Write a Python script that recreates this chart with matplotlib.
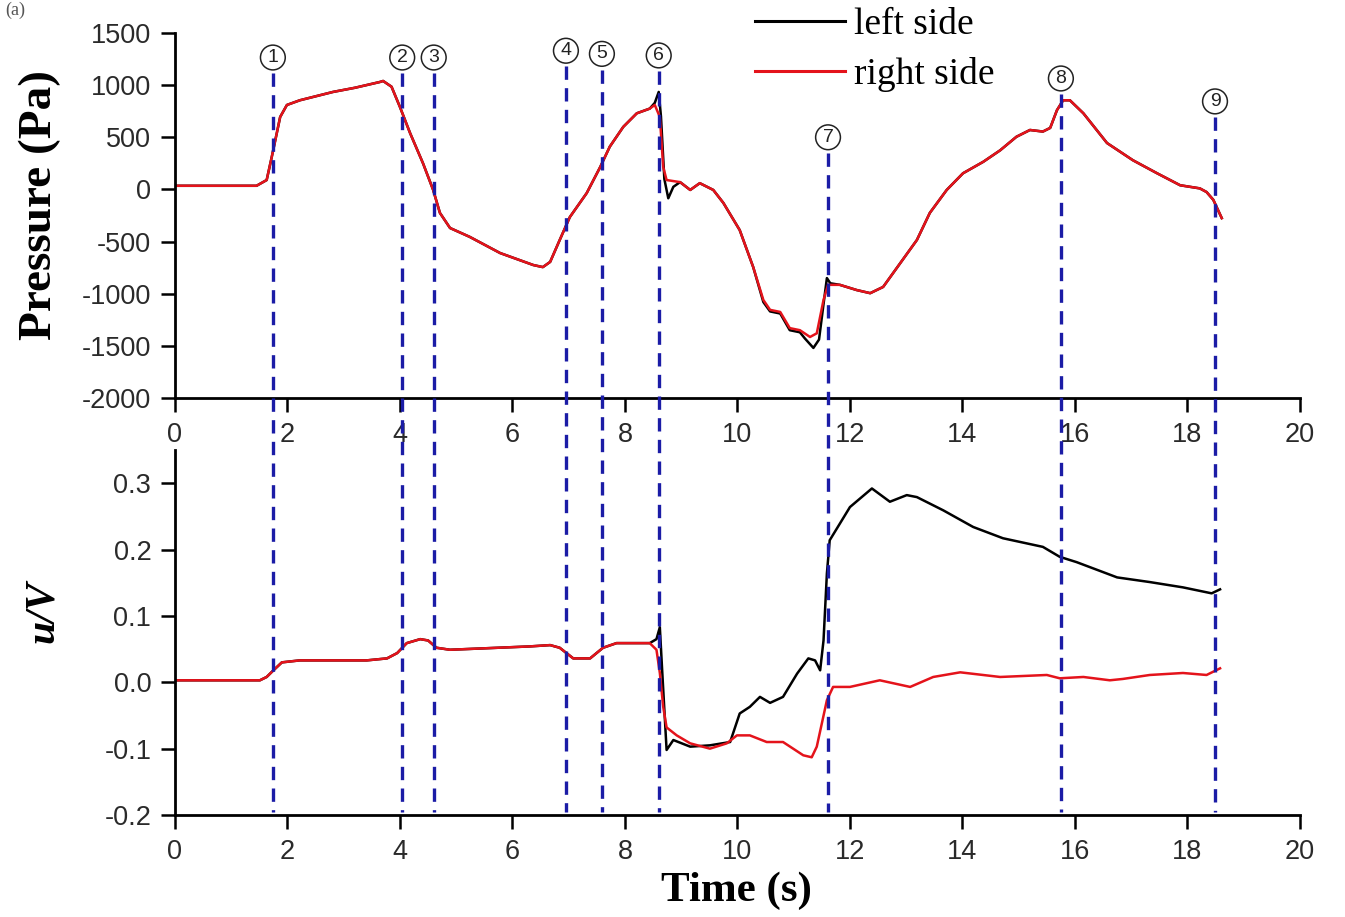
import matplotlib.pyplot as plt
from matplotlib.lines import Line2D

plt.rcParams['axes.unicode_minus'] = False

# ---- data ----
# pressure, right side
t_p_right = [0, 1.45, 1.63, 1.72, 1.81, 1.87, 1.99, 2.22, 2.81, 3.2, 3.64, 3.7, 3.85, 4.0,
             4.18, 4.41, 4.59, 4.71, 4.89, 5.24, 5.78, 6.37, 6.54, 6.67, 6.84, 7.02, 7.32,
             7.56, 7.73, 7.97, 8.21, 8.44, 8.53, 8.62, 8.68, 8.74, 8.98, 9.16, 9.33, 9.57,
             9.75, 10.04, 10.28, 10.46, 10.58, 10.76, 10.93, 11.11, 11.29, 11.41, 11.53,
             11.61, 11.82, 12.12, 12.36, 12.59, 12.89, 13.19, 13.42, 13.72, 14.01, 14.37,
             14.67, 14.96, 15.2, 15.43, 15.56, 15.68, 15.79, 15.91, 16.15, 16.57, 17.03,
             17.46, 17.87, 18.22, 18.34, 18.46, 18.61]
p_right = [35, 35, 90, 310, 540, 695, 810, 855, 935, 975, 1030, 1040, 985, 790,
           540, 250, -5, -225, -370, -455, -610, -725, -745, -695, -485, -265, -35,
           215, 410, 600, 730, 775, 810, 695, 215, 90, 70, -5, 60, -5,
           -130, -390, -745, -1060, -1155, -1175, -1330, -1350, -1415, -1380, -1060,
           -915, -915, -965, -995, -935, -710, -485, -225, -5, 155, 265,
           375, 505, 570, 555, 590, 760, 855, 855, 730, 445, 280,
           155, 40, 10, -25, -100, -275]

# pressure, left side (only differs near events 6 and 7)
t_p_left = [0, 1.45, 1.63, 1.72, 1.81, 1.87, 1.99, 2.22, 2.81, 3.2, 3.64, 3.7, 3.85, 4.0,
            4.18, 4.41, 4.59, 4.71, 4.89, 5.24, 5.78, 6.37, 6.54, 6.67, 6.84, 7.02, 7.32,
            7.56, 7.73, 7.97, 8.21, 8.44, 8.53, 8.6, 8.64, 8.7, 8.77, 8.86, 8.98, 9.16,
            9.33, 9.57, 9.75, 10.04, 10.28, 10.46, 10.58, 10.76, 10.93, 11.11, 11.2,
            11.35, 11.45, 11.53, 11.59, 11.65, 11.82, 12.12, 12.36, 12.59, 12.89, 13.19,
            13.42, 13.72, 14.01, 14.37, 14.67, 14.96, 15.2, 15.43, 15.56, 15.68, 15.79,
            15.91, 16.15, 16.57, 17.03, 17.46, 17.87, 18.22, 18.34, 18.46, 18.61]
p_left = [35, 35, 90, 310, 540, 695, 810, 855, 935, 975, 1030, 1040, 985, 790,
          540, 250, -5, -225, -370, -455, -610, -725, -745, -695, -485, -265, -35,
          215, 410, 600, 730, 775, 830, 935, 700, 100, -85, 25, 70, -5,
          60, -5, -130, -390, -745, -1080, -1170, -1190, -1350, -1370, -1430,
          -1520, -1440, -1100, -850, -900, -915, -965, -995, -935, -710, -485,
          -225, -5, 155, 265, 375, 505, 570, 555, 590, 760, 855,
          855, 730, 445, 280, 155, 40, 10, -25, -100, -275]

# u/V, right side
t_u_right = [0, 1.51, 1.63, 1.75, 1.9, 2.22, 3.41, 3.77, 3.95, 4.12, 4.36, 4.5, 4.65,
             4.89, 6.3, 6.67, 6.84, 7.08, 7.38, 7.61, 7.85, 8.44, 8.56, 8.62, 8.68,
             8.74, 8.92, 9.16, 9.51, 9.81, 9.99, 10.22, 10.52, 10.81, 11.17, 11.32,
             11.41, 11.59, 11.7, 12.0, 12.53, 13.07, 13.48, 13.96, 14.67, 15.5, 15.73,
             16.15, 16.62, 16.85, 17.33, 17.92, 18.34, 18.58]
u_right = [0.003, 0.003, 0.008, 0.018, 0.03, 0.033, 0.033, 0.036, 0.044, 0.059, 0.065,
           0.063, 0.052, 0.049, 0.054, 0.056, 0.052, 0.036, 0.036, 0.052, 0.059, 0.059,
           0.049, 0.014, -0.037, -0.068, -0.08, -0.092, -0.1, -0.092, -0.08, -0.08,
           -0.09, -0.09, -0.11, -0.113, -0.097, -0.027, -0.007, -0.007, 0.003, -0.007,
           0.008, 0.015, 0.008, 0.011, 0.006, 0.008, 0.003, 0.005, 0.011, 0.014,
           0.011, 0.021]

# u/V, left side
t_u_left = [0, 1.51, 1.63, 1.75, 1.9, 2.22, 3.41, 3.77, 3.95, 4.12, 4.36, 4.5, 4.65,
            4.89, 6.3, 6.67, 6.84, 7.08, 7.38, 7.61, 7.85, 8.44, 8.56, 8.62, 8.66,
            8.74, 8.86, 9.16, 9.51, 9.87, 10.04, 10.22, 10.4, 10.58, 10.81, 11.06,
            11.26, 11.38, 11.47, 11.53, 11.59, 11.64, 12.0, 12.39, 12.71, 13.01, 13.19,
            13.66, 14.19, 14.72, 15.43, 15.73, 16.03, 16.75, 17.33, 17.92, 18.43, 18.58]
u_left = [0.003, 0.003, 0.008, 0.018, 0.03, 0.033, 0.033, 0.036, 0.044, 0.059, 0.065,
          0.063, 0.052, 0.049, 0.054, 0.056, 0.052, 0.036, 0.036, 0.052, 0.059, 0.059,
          0.065, 0.083, 0.02, -0.102, -0.087, -0.097, -0.095, -0.09, -0.047, -0.037,
          -0.022, -0.031, -0.022, 0.013, 0.036, 0.033, 0.018, 0.063, 0.164, 0.214,
          0.264, 0.292, 0.272, 0.282, 0.279, 0.259, 0.234, 0.217, 0.204, 0.189,
          0.181, 0.158, 0.151, 0.143, 0.134, 0.14]

# event markers
event_times = [1.74, 4.04, 4.6, 6.95, 7.59, 8.6, 11.61, 15.75, 18.49]
event_labels = ['1', '2', '3', '4', '5', '6', '7', '8', '9']
event_heights = [1265, 1265, 1265, 1330, 1300, 1285, 500, 1064, 844]

p_ticks = [-2000, -1500, -1000, -500, 0, 500, 1000, 1500]
u_ticks = [-0.2, -0.1, 0.0, 0.1, 0.2, 0.3]
t_ticks = list(range(0, 21, 2))

RED = '#e4131b'
BLUE = '#1b1ca6'
TICK_FONT = 'Liberation Sans'
SERIF = 'Liberation Serif'

fig = plt.figure(figsize=(13.45, 9.17), dpi=100)
ax1 = fig.add_axes([0.1301, 0.566, 0.8364, 0.398])
ax2 = fig.add_axes([0.1301, 0.1112, 0.8364, 0.3981])

ax1.plot(t_p_left, p_left, color='black', lw=1.8, label='left side')
ax1.plot(t_p_right, p_right, color=RED, lw=1.8, label='right side')
ax2.plot(t_u_left, u_left, color='black', lw=1.8)
ax2.plot(t_u_right, u_right, color=RED, lw=1.8)

ax1.set_ylim(-2000, 1500)
ax2.set_ylim(-0.2, 0.35)
ax1.set_yticks(p_ticks)
ax2.set_yticks(u_ticks)
ax2.set_yticklabels([f'{v:.1f}' for v in u_ticks])

for ax in (ax1, ax2):
    ax.set_xlim(0, 20)
    ax.set_xticks(t_ticks)
    ax.spines['top'].set_visible(False)
    ax.spines['right'].set_visible(False)
    ax.spines['left'].set_linewidth(2.0)
    ax.spines['bottom'].set_linewidth(2.0)
    ax.tick_params(direction='out', length=10, width=1.8, pad=7,
                   labelsize=19.5, labelcolor='#2a2a2a')
    for lab in ax.get_xticklabels() + ax.get_yticklabels():
        lab.set_fontfamily(TICK_FONT)
    ax.set_facecolor('none')

# vertical dashed event lines, running through both panels
fig.canvas.draw()
to_fig = fig.transFigure.inverted()
y_bottom = to_fig.transform(ax2.transData.transform((0, -0.195)))[1]
for t, h, lab in zip(event_times, event_heights, event_labels):
    x_fig, y_top = to_fig.transform(ax1.transData.transform((t, h - 150)))
    fig.add_artist(Line2D([x_fig, x_fig], [y_top, y_bottom], transform=fig.transFigure,
                          color=BLUE, lw=2.4, ls=(0, (4, 2.5)), zorder=1))
    ax1.text(t, h, lab, ha='center', va='center', fontsize=14, family=TICK_FONT,
             color='#222222', clip_on=False,
             bbox=dict(boxstyle='circle,pad=0.2', fc='white', ec='#222222', lw=1.1))

leg = ax1.legend(loc='upper left', bbox_to_anchor=(755 / 1345, 1 - 8 / 917),
                 bbox_transform=fig.transFigure, frameon=False, borderpad=0,
                 borderaxespad=0, handlelength=2.4, handletextpad=0.25,
                 labelspacing=0.38, prop={'family': SERIF, 'size': 27})
for line in leg.get_lines():
    line.set_linewidth(2.2)

fig.text(40 / 1345, 1 - 205 / 917, 'Pressure (Pa)', rotation=90, ha='center', va='center',
         family=SERIF, weight='bold', size=34)
fig.text(43 / 1345, 1 - 612 / 917, 'u/V', rotation=90, ha='center', va='center',
         family=SERIF, weight='bold', style='italic', size=30)
fig.text(736 / 1345, 1 - 891 / 917, 'Time (s)', ha='center', va='center',
         family=SERIF, weight='bold', size=31)
fig.text(0.004, 0.998, '(a)', ha='left', va='top', family=SERIF, size=13, color='#555555')

fig.savefig('out.png', dpi=100)
